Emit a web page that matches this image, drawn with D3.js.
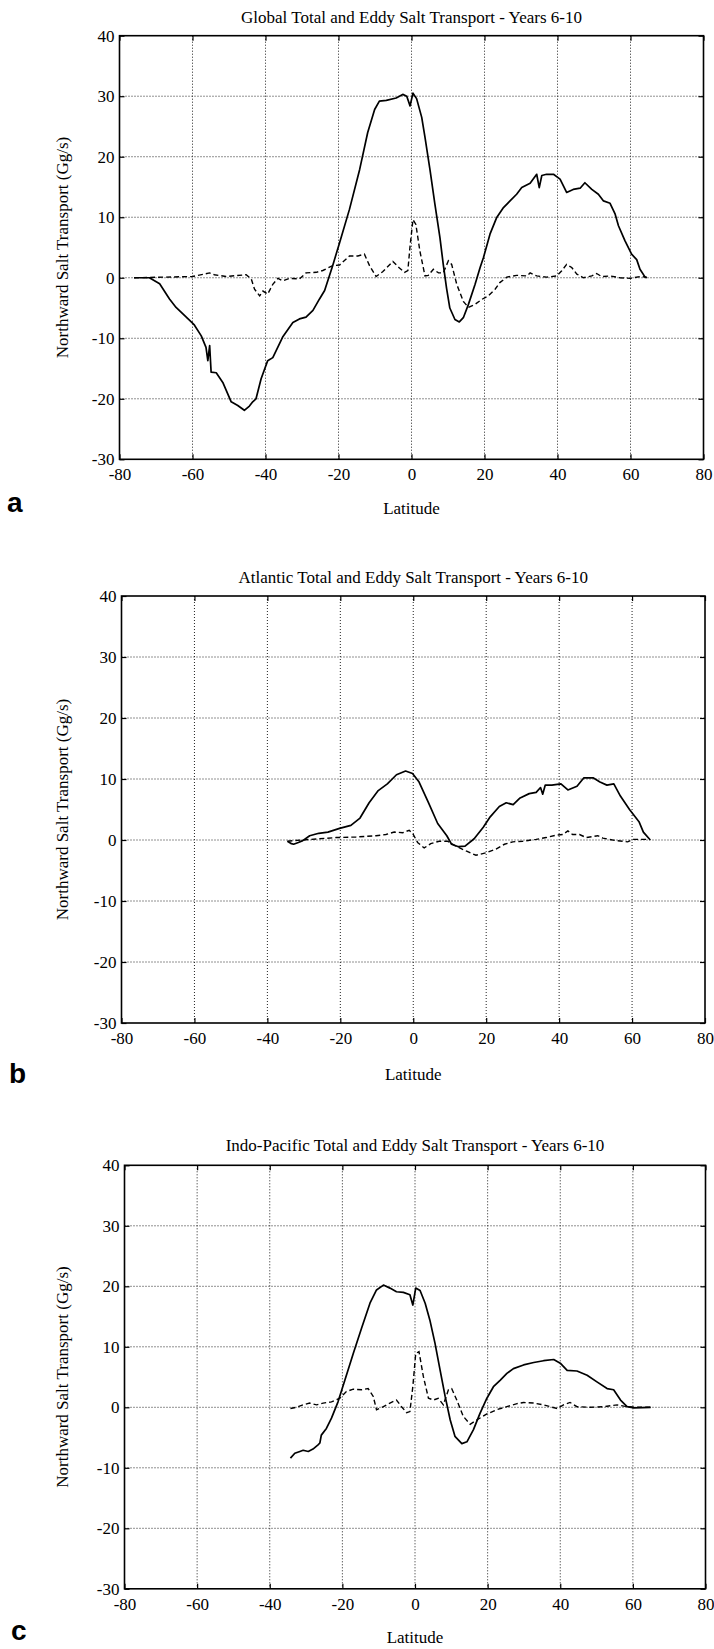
<!DOCTYPE html>
<html>
<head>
<meta charset="utf-8">
<script src="https://cdn.jsdelivr.net/npm/d3@7"></script>
<style>
  html, body { margin: 0; padding: 0; background: #fff; }
  svg { display: block; }
  text { font-family: 'Liberation Serif', 'Times New Roman', serif; fill: #000; }
</style>
</head>
<body>
<svg id="chart" width="714" height="1649"></svg>
<script>
// ---- data (latitude, Gg/s) ----
const xTicks = [-80, -60, -40, -20, 0, 20, 40, 60, 80];
const yTicks = [40, 30, 20, 10, 0, -10, -20, -30];
const titles = [
  "Global Total and Eddy Salt Transport - Years 6-10",
  "Atlantic Total and Eddy Salt Transport - Years 6-10",
  "Indo-Pacific Total and Eddy Salt Transport - Years 6-10"
];
const panelLetters = ["a", "b", "c"];
const xLabel = "Latitude";
const yLabel = "Northward Salt Transport (Gg/s)";

const globalTotal = [[-76,0],[-71.8,0],[-69,-1.0],[-66.3,-3.5],[-64.5,-4.9],[-61.7,-6.5],[-59.5,-7.8],[-57.6,-9.6],[-56.3,-11.5],[-55.8,-13.7],[-55.3,-11.2],[-54.9,-15.6],[-53.5,-15.7],[-51.7,-17.3],[-49.4,-20.5],[-47.6,-21.1],[-45.8,-21.9],[-44.4,-21.2],[-43.5,-20.5],[-42.6,-20.0],[-41.2,-16.7],[-39.4,-13.7],[-38.0,-13.2],[-35.3,-9.8],[-32.5,-7.4],[-30.7,-6.8],[-28.9,-6.5],[-27.0,-5.4],[-25.2,-3.5],[-23.8,-2.1],[-21.6,2.0],[-19.7,5.8],[-17.0,11.3],[-14.2,17.9],[-12.0,24.0],[-10.1,27.8],[-8.8,29.2],[-6.9,29.3],[-4.2,29.7],[-2.4,30.3],[-1.3,30.0],[-0.4,28.4],[0.4,30.5],[1.4,29.6],[2.8,26.5],[3.7,23.2],[5.1,17.7],[6.4,12.2],[7.8,6.6],[8.7,2.2],[9.6,-1.7],[10.5,-5.0],[11.9,-6.9],[13.1,-7.3],[14.2,-6.6],[15.6,-4.4],[17.4,-1.1],[18.8,1.7],[19.7,3.3],[21.5,7.2],[23.3,9.9],[25.2,11.6],[27.0,12.7],[28.8,13.8],[30.2,14.9],[32.5,15.6],[34.3,17.1],[35.0,14.9],[35.7,16.9],[37.0,17.1],[38.9,17.1],[40.7,16.3],[42.5,14.1],[44.3,14.6],[46.2,14.8],[47.5,15.7],[49.4,14.6],[51.2,13.8],[52.6,12.7],[54.4,12.3],[55.8,10.5],[56.7,8.6],[58.5,6.1],[60.3,3.9],[61.7,3.0],[62.6,1.4],[64.0,0.1],[64.5,0]];

const globalEddy = [[-76,0],[-60,0.2],[-55.3,0.8],[-54,0.5],[-50.8,0.2],[-45.3,0.5],[-43.9,-0.2],[-43.0,-1.9],[-41.6,-3.0],[-40.7,-2.2],[-39.4,-2.7],[-38.0,-1.1],[-36.6,-0.1],[-35.3,-0.5],[-33.4,-0.1],[-30.7,-0.2],[-28.9,0.8],[-26.1,0.9],[-24.3,1.2],[-21.6,2.0],[-19.7,2.1],[-17.0,3.6],[-14.7,3.6],[-12.9,3.9],[-11.5,2.0],[-9.7,0.2],[-7.9,1.0],[-5.1,2.7],[-3.3,1.6],[-1.9,0.9],[-1.0,1.2],[-0.4,5.2],[0.4,9.6],[1.2,8.8],[2.3,4.4],[3.7,0.3],[4.6,0.4],[6.0,1.4],[7.4,0.8],[8.7,0.8],[10.1,2.8],[11.0,2.2],[12.4,-1.1],[14.2,-3.9],[15.6,-4.9],[17.4,-4.4],[19.2,-3.6],[21.0,-3.0],[22.9,-1.9],[24.2,-0.8],[26.1,0.1],[28.8,0.4],[31.6,0.3],[32.5,0.8],[34.3,0.3],[37.0,0.1],[39.8,0.3],[41.1,1.1],[42.5,2.2],[43.9,1.7],[45.3,0.6],[47.1,0],[49.4,0.3],[50.7,0.7],[52.1,0.2],[54.4,0.3],[57.1,0],[59.9,-0.1],[62.6,0.2],[64.4,0.1]];

const atlanticTotal = [[-34.5,-0.2],[-33.4,-0.6],[-32.8,-0.7],[-31.5,-0.4],[-30.3,-0.1],[-28.4,0.7],[-25.9,1.1],[-23.4,1.3],[-20.2,1.9],[-17.1,2.4],[-14.6,3.6],[-12.1,6.1],[-9.6,8.1],[-7.1,9.2],[-4.6,10.7],[-2.1,11.3],[-0.2,10.9],[1.6,9.5],[4.2,6.1],[6.7,2.7],[9.2,0.7],[10.5,-0.7],[12.4,-1.1],[14.2,-1.0],[16.7,0.2],[19.2,2.1],[21.1,3.8],[23.6,5.5],[25.5,6.1],[27.4,5.8],[29.3,6.9],[31.8,7.6],[33.7,7.8],[34.9,8.6],[35.5,7.5],[36.2,9.0],[38.0,9.0],[40.5,9.2],[42.4,8.2],[44.9,8.8],[46.8,10.2],[49.3,10.2],[51.2,9.5],[53.1,9.0],[55.0,9.2],[56.8,7.2],[59.3,5.0],[61.9,3.0],[63.1,1.3],[65.0,0]];

const atlanticEddy = [[-34.5,-0.2],[-30.4,0],[-25.8,0.2],[-21.2,0.4],[-15.7,0.5],[-10.2,0.7],[-7.5,0.9],[-5.2,1.3],[-2.9,1.2],[-1.1,1.6],[0,0.9],[1.2,-0.4],[3.0,-1.3],[4.8,-0.6],[7.1,-0.2],[9.4,-0.2],[11.7,-1.0],[14.5,-1.8],[17.2,-2.5],[19.9,-2.1],[22.7,-1.5],[25.0,-0.7],[27.3,-0.3],[30.0,-0.2],[33.7,0.1],[36.4,0.4],[39.2,0.8],[41.0,0.9],[42.4,1.5],[43.7,0.9],[45.6,0.9],[47.4,0.4],[50.6,0.7],[52.0,0.3],[55.6,-0.1],[58.8,-0.3],[60.2,0.1],[64.8,0.1]];

const indoPacTotal = [[-34.3,-8.4],[-33.1,-7.6],[-31.7,-7.3],[-30.8,-7.1],[-29.4,-7.3],[-28.1,-6.9],[-26.7,-6.2],[-26.2,-5.9],[-25.8,-4.6],[-24.4,-3.5],[-23.0,-1.8],[-21.2,0.9],[-19.3,4.5],[-17.0,8.9],[-14.7,13.1],[-12.4,17.2],[-10.6,19.4],[-8.7,20.2],[-6.9,19.7],[-5.1,19.1],[-3.2,19.0],[-1.4,18.6],[-0.6,16.9],[0.2,19.7],[1.4,19.3],[2.8,17.2],[4.1,14.4],[5.5,10.6],[6.9,6.2],[8.3,1.8],[9.7,-2.1],[11.0,-4.8],[12.9,-6.0],[14.3,-5.7],[16.1,-3.7],[17.9,-1.0],[19.8,1.5],[21.6,3.4],[23.5,4.5],[25.3,5.6],[27.1,6.4],[29.9,7.0],[32.7,7.4],[35.4,7.7],[38.2,7.9],[40.0,7.3],[41.9,6.1],[44.6,6.0],[47.4,5.3],[50.1,4.2],[52.9,3.1],[54.7,2.9],[56.6,1.2],[58.4,0.1],[60.3,-0.1],[64.9,0]];

const indoPacEddy = [[-34.3,-0.2],[-32.7,0],[-30.8,0.4],[-29.0,0.7],[-27.1,0.4],[-25.3,0.7],[-23.0,0.9],[-20.7,1.5],[-18.9,2.6],[-17.0,3.0],[-14.7,2.9],[-12.9,3.1],[-11.5,1.8],[-10.6,-0.4],[-8.7,0.1],[-6.9,0.7],[-5.1,1.2],[-3.7,0.1],[-2.3,-0.9],[-1.4,-0.7],[-0.6,3.4],[0.2,8.9],[1.1,9.2],[2.3,5.1],[3.7,1.5],[5.1,1.2],[6.4,1.5],[7.8,0.4],[9.2,2.9],[10.1,3.1],[11.5,1.2],[13.3,-1.5],[15.2,-2.8],[17.0,-2.1],[19.8,-1.1],[22.5,-0.4],[25.3,0.1],[28.1,0.6],[29.9,0.8],[32.7,0.7],[35.4,0.4],[39.1,-0.2],[40.9,0.4],[42.7,0.8],[44.6,0.1],[48.3,0],[51.9,0.1],[55.7,0.4],[57.5,0.2],[60.3,0],[64.9,0]];

// ---- layout ----
const panels = [
  { left: 119.5, right: 703.5, top: 35.7, bottom: 459.3, total: globalTotal, eddy: globalEddy,
    titleY: 22.5, latY: 514, letterX: 7, letterY: 512 },
  { left: 121.5, right: 705, top: 596, bottom: 1023, total: atlanticTotal, eddy: atlanticEddy,
    titleY: 582.5, latY: 1080, letterX: 9, letterY: 1083 },
  { left: 124.5, right: 705.5, top: 1165.3, bottom: 1588.8, total: indoPacTotal, eddy: indoPacEddy,
    titleY: 1151, latY: 1643, letterX: 11, letterY: 1640 }
];

const SERIF = "'Liberation Serif', 'Times New Roman', Times, serif";
const svg = d3.select("#chart");
svg.append("rect").attr("width", 714).attr("height", 1649).attr("fill", "#fff");

panels.forEach((p, i) => {
  const x = d3.scaleLinear().domain([-80, 80]).range([p.left, p.right]);
  const y = d3.scaleLinear().domain([-30, 40]).range([p.bottom, p.top]);
  const g = svg.append("g");

  // grid (dotted)
  g.append("g").selectAll("line").data(xTicks.slice(1, -1)).join("line")
    .attr("x1", d => x(d)).attr("x2", d => x(d))
    .attr("y1", p.top).attr("y2", p.bottom)
    .attr("stroke", "#222").attr("stroke-width", 1).attr("stroke-dasharray", "1,2");
  g.append("g").selectAll("line").data(yTicks.slice(1, -1)).join("line")
    .attr("x1", p.left).attr("x2", p.right)
    .attr("y1", d => y(d)).attr("y2", d => y(d))
    .attr("stroke", "#222").attr("stroke-width", 1).attr("stroke-dasharray", "1,2");

  // axes with inward ticks
  const fmt = d => String(d);
  const axB = d3.axisBottom(x).tickValues(xTicks).tickSize(-5).tickPadding(9).tickFormat(fmt);
  const axL = d3.axisLeft(y).tickValues(yTicks).tickSize(-5).tickPadding(5).tickFormat(fmt);
  const axT = d3.axisTop(x).tickValues(xTicks).tickSize(-5).tickFormat("");
  const axR = d3.axisRight(y).tickValues(yTicks).tickSize(-5).tickFormat("");

  const styleAxis = sel => {
    sel.attr("font-family", null).attr("font-size", null);
    sel.select(".domain").remove();
    sel.selectAll(".tick line").attr("stroke", "#000").attr("stroke-width", 1.2);
    sel.selectAll(".tick text").style("font-family", SERIF)
      .style("font-size", "17px").attr("fill", "#000");
  };
  g.append("g").attr("transform", `translate(0,${p.bottom})`).call(axB).call(styleAxis);
  g.append("g").attr("transform", `translate(${p.left},0)`).call(axL).call(styleAxis);
  g.append("g").attr("transform", `translate(0,${p.top})`).call(axT).call(styleAxis);
  g.append("g").attr("transform", `translate(${p.right},0)`).call(axR).call(styleAxis);

  // frame
  g.append("rect").attr("x", p.left).attr("y", p.top)
    .attr("width", p.right - p.left).attr("height", p.bottom - p.top)
    .attr("fill", "none").attr("stroke", "#000").attr("stroke-width", 1.6);

  const line = d3.line().x(d => x(d[0])).y(d => y(d[1]));
  g.append("path").datum(p.eddy).attr("d", line)
    .attr("fill", "none").attr("stroke", "#000").attr("stroke-width", 1.4)
    .attr("stroke-dasharray", "5,3");
  g.append("path").datum(p.total).attr("d", line)
    .attr("fill", "none").attr("stroke", "#000").attr("stroke-width", 1.7)
    .attr("stroke-linejoin", "round");

  const cx = (p.left + p.right) / 2;
  g.append("text").attr("x", cx).attr("y", p.titleY).attr("text-anchor", "middle")
    .style("font-family", SERIF).style("font-size", "17px").text(titles[i]);
  g.append("text").attr("x", cx).attr("y", p.latY).attr("text-anchor", "middle")
    .style("font-family", SERIF).style("font-size", "17px").text(xLabel);
  g.append("text")
    .attr("transform", `translate(62,${(p.top + p.bottom) / 2}) rotate(-90)`)
    .attr("text-anchor", "middle").attr("dy", "0.35em")
    .style("font-family", SERIF).style("font-size", "17px").text(yLabel);
  g.append("text").attr("x", p.letterX).attr("y", p.letterY)
    .style("font-family", "'Liberation Sans', Arial, sans-serif").style("font-weight", "bold")
    .style("font-size", "28px").text(panelLetters[i]);
});
</script>
</body>
</html>
